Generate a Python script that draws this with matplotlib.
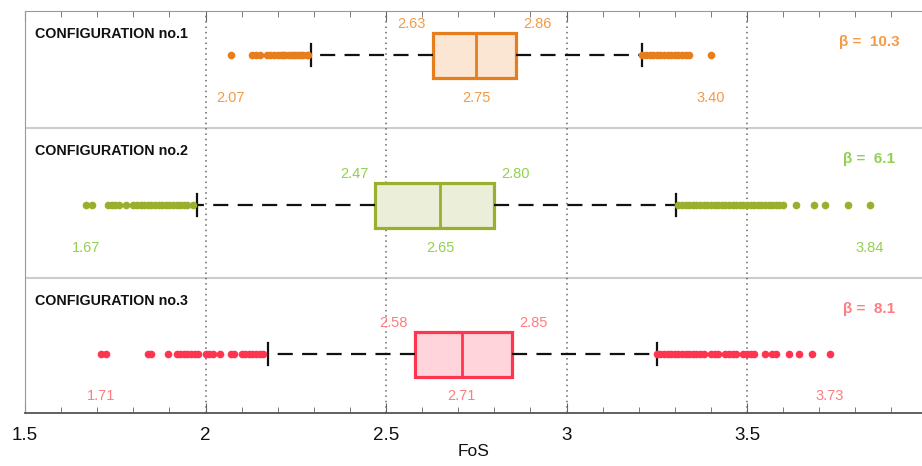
import matplotlib.pyplot as plt
from matplotlib.ticker import MultipleLocator

plt.rcParams['font.family'] = ['Liberation Sans', 'DejaVu Sans']

# box statistics per configuration (FoS)
configs = ['CONFIGURATION no.1', 'CONFIGURATION no.2', 'CONFIGURATION no.3']
q1 = [2.63, 2.47, 2.58]
med = [2.75, 2.65, 2.71]
q3 = [2.86, 2.80, 2.85]
whis_lo = [2.292, 1.976, 2.173]
whis_hi = [3.209, 3.303, 3.251]
beta = [10.3, 6.1, 8.1]

# outliers
out_1 = [2.07, 2.13, 2.14, 2.15, 2.17, 2.18, 2.19, 2.20, 2.21, 2.215, 2.22, 2.23,
         2.24, 2.245, 2.25, 2.26, 2.265, 2.27, 2.28, 2.285,
         3.21, 3.22, 3.23, 3.24, 3.25, 3.26, 3.27, 3.28, 3.29, 3.30, 3.31, 3.32,
         3.33, 3.34, 3.40]
out_2 = [1.67, 1.685, 1.73, 1.74, 1.75, 1.76, 1.78, 1.80, 1.81, 1.82, 1.83, 1.84,
         1.85, 1.86, 1.87, 1.88, 1.89, 1.90, 1.91, 1.92, 1.93, 1.94, 1.95, 1.965,
         3.31, 3.32, 3.33, 3.34, 3.35, 3.36, 3.37, 3.38, 3.39, 3.40, 3.41, 3.42,
         3.43, 3.44, 3.45, 3.46, 3.47, 3.48, 3.49, 3.50, 3.51, 3.52, 3.53, 3.54,
         3.55, 3.56, 3.57, 3.58, 3.59, 3.60, 3.635, 3.685, 3.715, 3.78, 3.84]
out_3 = [1.71, 1.725, 1.84, 1.85, 1.895, 1.92, 1.93, 1.94, 1.95, 1.96, 1.97, 1.98,
         2.00, 2.01, 2.02, 2.04, 2.07, 2.08, 2.10, 2.11, 2.12, 2.13, 2.14, 2.15, 2.16,
         3.25, 3.26, 3.27, 3.28, 3.29, 3.30, 3.31, 3.32, 3.33, 3.34, 3.35, 3.36,
         3.37, 3.38, 3.40, 3.41, 3.42, 3.44, 3.45, 3.46, 3.47, 3.49, 3.50, 3.51,
         3.52, 3.55, 3.57, 3.58, 3.615, 3.645, 3.68, 3.73]
outliers = [out_1, out_2, out_3]

edge_cols = ['#E67E1E', '#9AAF2E', '#FF3550']
fill_cols = ['#FBE5D3', '#EBEFDA', '#FFD4DB']
text_cols = ['#F59A45', '#92D050', '#FF7C80']

# vertical layout in pixel-like units (top = 11, bottom = 413)
row_top = [11, 128, 278]
row_y = [55, 205, 354]
box_h = 45

fig = plt.figure(figsize=(9.22, 4.66), dpi=100)
ax = fig.add_axes([25 / 922, 1 - 413 / 466, 897 / 922, 402 / 466])

for i in range(3):
    stats = [dict(med=med[i], q1=q1[i], q3=q3[i], whislo=whis_lo[i],
                  whishi=whis_hi[i], fliers=outliers[i])]
    ax.bxp(stats, positions=[row_y[i]], widths=box_h, orientation='horizontal',
           patch_artist=True, showfliers=True, capwidths=22,
           boxprops=dict(facecolor=fill_cols[i], edgecolor=edge_cols[i], linewidth=2.3),
           medianprops=dict(color=edge_cols[i], linewidth=2.0),
           whiskerprops=dict(color='#111111', linewidth=1.6, linestyle=(0, (6.8, 4.2))),
           capprops=dict(color='#111111', linewidth=1.6),
           flierprops=dict(marker='o', markersize=5.5, markerfacecolor=edge_cols[i],
                           markeredgecolor='none', linestyle='none'))

    top = row_y[i] - box_h / 2
    bot = row_y[i] + box_h / 2
    c = text_cols[i]
    ax.annotate('%.2f' % q1[i], (q1[i], top), xytext=(-5, 1), textcoords='offset points',
                ha='right', va='bottom', color=c, fontsize=10.5)
    ax.annotate('%.2f' % q3[i], (q3[i], top), xytext=(5, 1), textcoords='offset points',
                ha='left', va='bottom', color=c, fontsize=10.5)
    ax.text(med[i], bot + 20, '%.2f' % med[i], ha='center', va='center',
            color=c, fontsize=10.5)
    ax.text(min(outliers[i]), bot + 20, '%.2f' % min(outliers[i]), ha='center',
            va='center', color=c, fontsize=10.5)
    ax.text(max(outliers[i]), bot + 20, '%.2f' % max(outliers[i]), ha='center',
            va='center', color=c, fontsize=10.5)
    ax.text(1.528, row_top[i] + 23, configs[i], ha='left', va='center',
            fontsize=10.3, fontweight='bold', color='#111111')
    ax.text(3.838, row_top[i] + 31, '\u03b2 =  %.1f' % beta[i], ha='center',
            va='center', fontsize=11, fontweight='bold', color=c)

# row separators
for y in row_top[1:]:
    ax.axhline(y, color='#CCCCCC', linewidth=1.5, zorder=0)

ax.set_xlim(1.5, 1.5 + 897 / 361)
ax.set_ylim(413, 11)
ax.xaxis.set_major_locator(MultipleLocator(0.5))
ax.xaxis.set_minor_locator(MultipleLocator(0.1))
ax.set_xticks([1.5, 2, 2.5, 3, 3.5])
ax.set_xticklabels(['1.5', '2', '2.5', '3', '3.5'])
ax.set_yticks([])
ax.grid(axis='x', which='major', color='#666666', linestyle=(0, (1, 2.5)), linewidth=1.1)
ax.set_axisbelow(True)
ax.tick_params(axis='x', which='both', direction='in', top=True, colors='#666666',
               labelcolor='#111111', labelsize=13.5, pad=10)
ax.tick_params(axis='x', which='major', length=7)
ax.tick_params(axis='x', which='minor', length=4)
ax.set_xlabel('FoS', fontsize=12.5, labelpad=0, color='#111111')

ax.spines['right'].set_visible(False)
ax.spines['left'].set_color('#999999')
ax.spines['top'].set_color('#999999')
ax.spines['bottom'].set_color('#555555')
ax.spines['bottom'].set_linewidth(1.3)

fig.savefig('out.png', dpi=100)
